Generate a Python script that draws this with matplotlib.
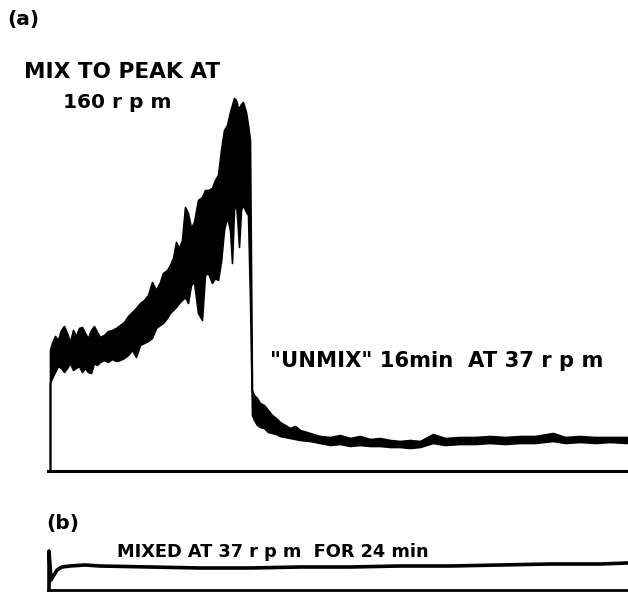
import matplotlib
matplotlib.use("Agg")
import matplotlib.pyplot as plt

# (a) recorder trace: time (arbitrary units) and the
# upper / lower edge of the noisy band (signal, arbitrary units)
a_time = [0, 0, 2, 5, 8, 11, 14, 17, 20, 23, 26, 29, 32, 35, 38, 41, 44, 47,
          50, 54, 58, 62, 66, 70, 74, 78, 82, 86, 90, 94, 98, 102, 106, 110,
          113, 117, 120, 123, 126, 129, 132, 135, 138, 141, 144, 148, 152,
          155, 158, 162, 165, 168, 171, 174, 177, 180, 182, 184, 186, 188,
          189, 191, 193, 196, 198, 200, 202, 204, 207, 210, 214, 218, 222,
          226, 230, 235, 240, 245, 250, 260, 270, 280, 290, 300, 310, 320,
          330, 340, 350, 360, 370, 383, 395, 410, 425, 440, 455, 470, 485,
          503, 515, 530, 545, 560, 577]
a_upper = [0, 121, 128, 135, 131, 141, 145, 138, 129, 141, 135, 143, 144,
           138, 133, 141, 145, 139, 134, 136, 140, 141, 143, 146, 149, 155,
           159, 163, 168, 171, 176, 189, 181, 189, 198, 201, 206, 213, 229,
           223, 231, 264, 258, 243, 249, 271, 274, 281, 281, 283, 291, 296,
           321, 341, 346, 359, 366, 373, 371, 363, 363, 367, 369, 359, 346,
           331, 81, 76, 73, 68, 66, 61, 56, 53, 49, 46, 43, 45, 41, 38, 35,
           34, 36, 33, 35, 32, 33, 31, 30, 31, 30, 37, 33, 34, 34, 35, 34,
           35, 35, 38, 34, 35, 34, 34, 34]
a_lower = [0, 88, 93, 99, 105, 103, 99, 103, 108, 101, 103, 105, 99, 103,
           99, 98, 108, 106, 109, 111, 109, 112, 110, 111, 113, 116, 121,
           114, 126, 128, 130, 133, 143, 146, 148, 153, 158, 161, 164, 168,
           171, 174, 168, 186, 189, 158, 151, 196, 198, 188, 193, 191, 209,
           241, 254, 241, 208, 261, 268, 241, 224, 261, 266, 259, 256, 171,
           56, 51, 46, 44, 43, 39, 38, 37, 35, 34, 33, 32, 31, 30, 28, 26,
           27, 25, 26, 25, 25, 24, 24, 23, 24, 28, 26, 27, 27, 28, 27, 28,
           28, 30, 28, 29, 28, 29, 28]

# (b) trace
b_time = [-1, -1, 1, 4, 7, 12, 20, 35, 50, 100, 150, 200, 250, 300, 350,
          400, 450, 500, 550, 577]
b_signal = [0, 39, 10, 15, 20, 23, 24, 25, 24, 23, 22, 22, 23, 23, 24, 24,
            25, 26, 26, 27]

W, H = 628, 606
fig = plt.figure(figsize=(W / 100, H / 100), dpi=100)


def fx(px):
    return px / W


def fy(py):
    return 1 - py / H


def clean(ax, lw):
    for side in ['top', 'right', 'left']:
        ax.spines[side].set_visible(False)
    ax.spines['bottom'].set_linewidth(lw)
    ax.set_xticks([])
    ax.set_yticks([])
    ax.patch.set_alpha(0)


# panel (a)
ax_a = fig.add_axes([fx(48), fy(471), fx(580), 381 / H])
ax_a.fill_between(a_time, a_lower, a_upper, color='black',
                  edgecolor='black', linewidth=1.2, joinstyle='round')
ax_a.set_xlim(-2, 578)
ax_a.set_ylim(0, 381)
clean(ax_a, 2.2)

# panel (b)
ax_b = fig.add_axes([fx(48), fy(590), fx(580), 50 / H])
ax_b.plot(b_time, b_signal, color='black', linewidth=2.6,
          solid_joinstyle='round', clip_on=False)
ax_b.set_xlim(-2, 578)
ax_b.set_ylim(0, 50)
clean(ax_b, 2.0)

font = dict(family='DejaVu Sans', fontweight='bold', color='black')
fig.text(fx(7), fy(20), '(a)', ha='left', va='center', fontsize=14.5, **font)
fig.text(fx(24), fy(78), 'MIX TO PEAK AT', ha='left', va='baseline',
         fontsize=15.6, **font)
fig.text(fx(117), fy(108), '160 r p m', ha='center', va='baseline',
         fontsize=14.5, **font)
fig.text(fx(270), fy(367), '"UNMIX" 16min  AT 37 r p m', ha='left',
         va='baseline', fontsize=15.2, **font)
fig.text(fx(46), fy(523), '(b)', ha='left', va='center', fontsize=14.5,
         **font)
fig.text(fx(117), fy(557), 'MIXED AT 37 r p m  FOR 24 min', ha='left',
         va='baseline', fontsize=12.8, **font)

fig.savefig('out.png', dpi=100, facecolor='white')
